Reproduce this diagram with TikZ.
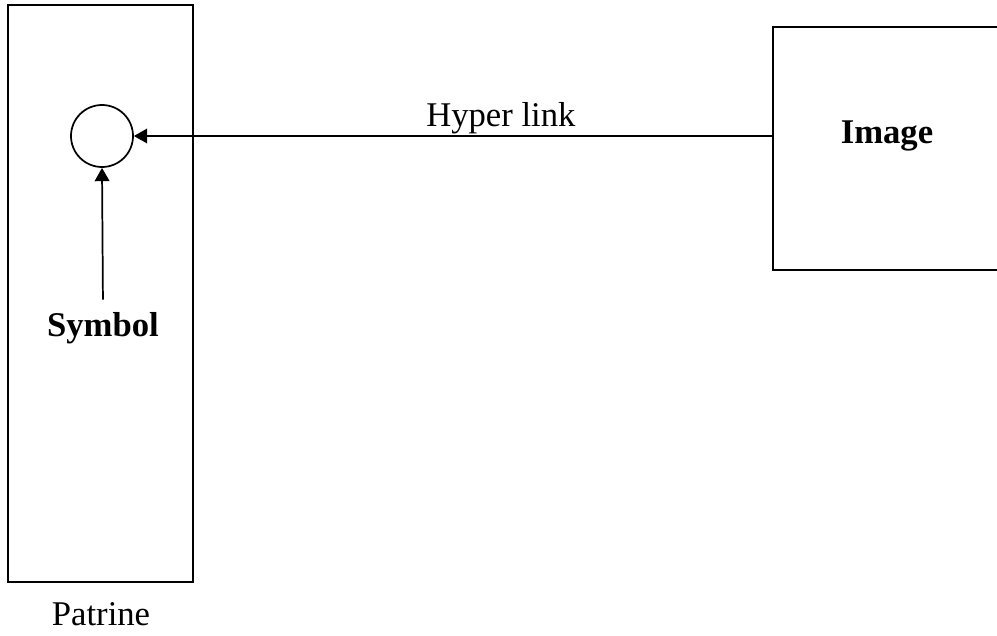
\documentclass[tikz,border=0pt]{standalone}
\usepackage{fontspec}
\setmainfont{Liberation Serif}
\usetikzlibrary{arrows.meta}
\usetikzlibrary{positioning}

\tikzset{
  frame/.style={draw, line width=1.3pt, rectangle, inner sep=0pt},
  link/.style={line width=1.3pt, -{Triangle[length=10pt, width=11pt]}},
  label/.style={font=\fontsize{26}{30}\selectfont}
}

\begin{document}
\begin{tikzpicture}[x=0.75pt, y=-0.75pt]
  \useasboundingbox (0,0) rectangle (997,636);
  % patrine side
  \node[frame, minimum width=138.75pt, minimum height=432.75pt] (patbox) at (100.5,293.5) {};
  \node[label, anchor=base] (patname) at (101,625) {Patrine};
  \node[draw, circle, line width=1.3pt, minimum size=46.5pt, inner sep=0pt] (symb) at (102,136) {};
  \node[label, font=\fontsize{26}{30}\selectfont\bfseries] (symname) at (103,328) {Symbol};
  % image side
  \node[frame, minimum width=171pt, minimum height=182.25pt] (imgbox) at (887,148.5) {};
  \node[label, font=\fontsize{26}{30}\selectfont\bfseries] (imgname) at (887,136) {Image};
  \coordinate (linkstart) at (imgbox.west |- symb);
  \draw[link, shorten <=6pt] (symname.north) -- (symb.south);
  \draw[link] (linkstart) -- node[label, above, inner sep=1pt, pos=0.425] (linkname) {Hyper link} (symb.east);
\end{tikzpicture}
\end{document}
